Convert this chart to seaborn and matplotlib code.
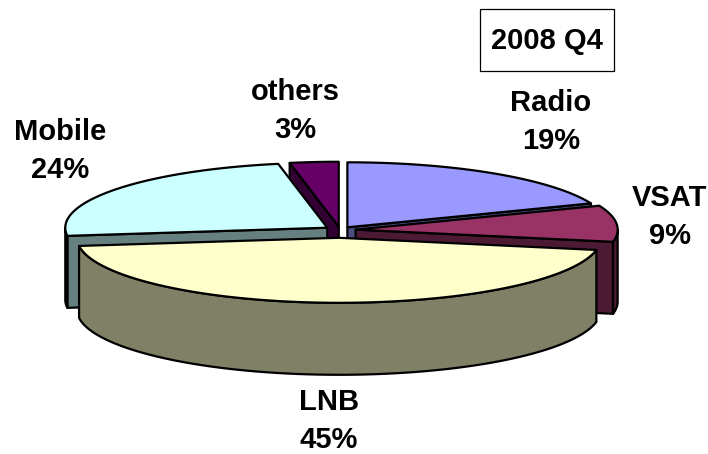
import numpy as np
import matplotlib
matplotlib.use('Agg')
import matplotlib.pyplot as plt
from matplotlib.patches import Polygon, Rectangle
import seaborn as sns

# data (clockwise from 12 o'clock, like the Excel chart)
labels = ['Radio', 'VSAT', 'LNB', 'Mobile', 'others']
shares = [19, 9, 45, 24, 3]
top_colors = ['#9999FF', '#993366', '#FFFFCC', '#CCFFFF', '#660066']
explode = [0.05, 0.06, 0.12, 0.06, 0.05]
title = '2008 Q4'

# label positions in pixels (x, y centre of the two lines)
label_pos = [(551, 122), (670, 217), (329, 421), (60, 151), (295, 111)]

sns.set_style('white')
plt.rcParams['font.family'] = ['Liberation Sans', 'DejaVu Sans']
plt.rcParams['text.color'] = 'black'

# pie geometry in pixel space
cx, cy = 340, 230
rx, ry = 262, 65
depth = 72
lw = 1.6


def shade(c, f=0.5):
    r, g, b = matplotlib.colors.to_rgb(c)
    return (r * f, g * f, b * f)


fig = plt.figure(figsize=(7.08, 4.54), dpi=100)
ax = fig.add_axes([0, 0, 1, 1])
ax.set_xlim(0, 708)
ax.set_ylim(454, 0)
ax.axis('off')

# ccw angles; start at 90 deg going clockwise
total = sum(shares)
wedges = []
start = 90.0
for lab, s, col, e in zip(labels, shares, top_colors, explode):
    sweep = 360.0 * s / total
    a2 = start
    a1 = start - sweep
    mid = np.deg2rad((a1 + a2) / 2)
    ox = e * rx * np.cos(mid)
    oy = -e * ry * np.sin(mid)
    wedges.append(dict(a1=a1, a2=a2, mid=mid, ox=ox, oy=oy, col=col))
    start = a1

# back to front
wedges.sort(key=lambda w: -np.sin(w['mid']))


def pt(w, t, dz=0.0):
    return (cx + w['ox'] + rx * np.cos(t), cy + w['oy'] - ry * np.sin(t) + dz)


for w in wedges:
    side = shade(w['col'])
    c0 = (cx + w['ox'], cy + w['oy'])
    # radial faces facing the viewer
    for t, nrm in ((w['a1'], w['a1'] - 90), (w['a2'], w['a2'] + 90)):
        if np.sin(np.deg2rad(nrm)) < -1e-6:
            tr = np.deg2rad(t)
            p = pt(w, tr)
            quad = [c0, p, (p[0], p[1] + depth), (c0[0], c0[1] + depth)]
            ax.add_patch(Polygon(quad, closed=True, fc=side, ec='black', lw=lw, joinstyle='round'))
    # outer curved side, front half only
    ts = np.deg2rad(np.linspace(w['a1'], w['a2'], 400))
    vis = np.sin(ts) <= 0
    idx = np.flatnonzero(vis)
    if len(idx):
        runs = np.split(idx, np.flatnonzero(np.diff(idx) > 1) + 1)
        for r in runs:
            tt = ts[r]
            topp = [pt(w, t) for t in tt]
            bot = [pt(w, t, depth) for t in tt[::-1]]
            ax.add_patch(Polygon(topp + bot, closed=True, fc=side, ec='black', lw=lw, joinstyle='round'))
    # top face
    poly = [c0] + [pt(w, t) for t in ts]
    ax.add_patch(Polygon(poly, closed=True, fc=w['col'], ec='black', lw=lw, joinstyle='round'))

for lab, s, (x, y) in zip(labels, shares, label_pos):
    ax.text(x, y, f'{lab}\n{s}%', ha='center', va='center', fontsize=21,
            fontweight='bold', linespacing=1.45, color='black')

ax.add_patch(Rectangle((480, 9), 134, 62, fc='white', ec='black', lw=0.9))
ax.text(547, 41, title, ha='center', va='center', fontsize=21, fontweight='bold', color='black')

fig.savefig('out.png', dpi=100)
